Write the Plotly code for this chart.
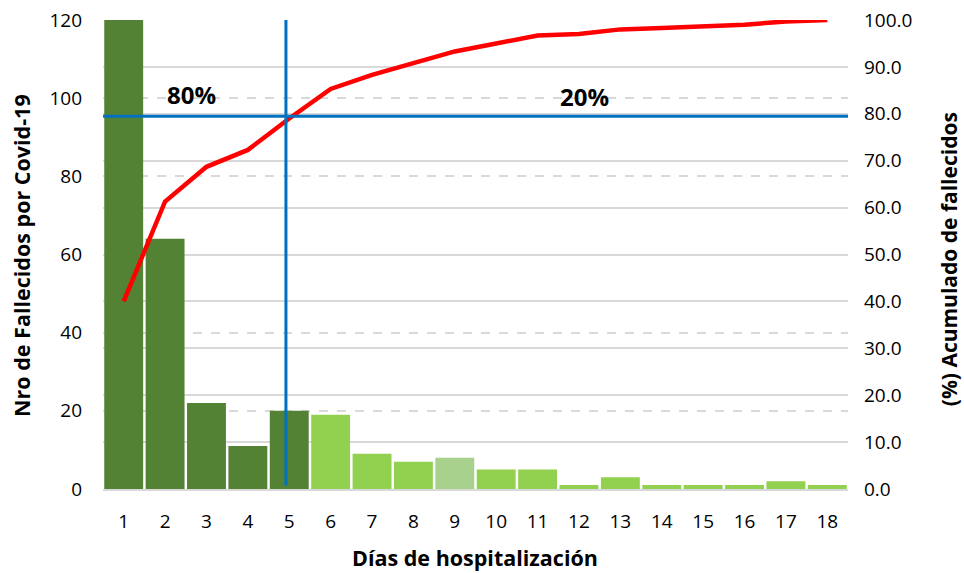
import plotly.graph_objects as go

dias = list(range(1, 19))
fallecidos = [120, 64, 22, 11, 20, 19, 9, 7, 8, 5, 5, 1, 3, 1, 1, 1, 2, 1]
acumulado = [40.0, 61.3, 68.7, 72.3, 79.0, 85.3, 88.3, 90.7, 93.3, 95.0, 96.7, 97.0, 98.0, 98.3, 98.7, 99.0, 99.7, 100.0]
colores = ["#548235"] * 5 + ["#92D050"] * 3 + ["#A9D18E"] + ["#92D050"] * 9

FONT = "Open Sans"

fig = go.Figure()
fig.add_trace(go.Bar(x=dias, y=fallecidos, marker=dict(color=colores, line=dict(width=0)),
                     yaxis="y", showlegend=False))
fig.add_trace(go.Scatter(x=dias, y=acumulado, mode="lines", yaxis="y2",
                         line=dict(color="#FF0000", width=4.5), showlegend=False))

# Pareto reference lines
fig.add_shape(type="line", xref="paper", yref="y2", x0=0, x1=1, y0=79.5, y1=79.5,
              line=dict(color="#0070C0", width=3))
fig.add_shape(type="line", xref="x", yref="y", x0=4.92, x1=4.92, y0=0.8, y1=120,
              line=dict(color="#0070C0", width=3))

fig.add_annotation(x=2.63, y=101, xref="x", yref="y", text="<b>80%</b>", showarrow=False,
                   font=dict(family=FONT, size=24, color="black"))
fig.add_annotation(x=12.14, y=100.3, xref="x", yref="y", text="<b>20%</b>", showarrow=False,
                   font=dict(family=FONT, size=24, color="black"))

# axis titles
fig.add_annotation(x=0.499, y=-0.145, xref="paper", yref="paper", text="<b>Días de hospitalización</b>",
                   showarrow=False, xanchor="center", yanchor="middle",
                   font=dict(family=FONT, size=21.5, color="black"))
fig.add_annotation(x=-0.1087, y=0.497, xref="paper", yref="paper", text="<b>Nro de Fallecidos por Covid-19</b>",
                   showarrow=False, xanchor="center", yanchor="middle", textangle=-90,
                   font=dict(family=FONT, size=21.5, color="black"))
fig.add_annotation(x=1.1356, y=0.49, xref="paper", yref="paper", text="<b>(%) Acumulado de fallecidos</b>",
                   showarrow=False, xanchor="center", yanchor="middle", textangle=-90,
                   font=dict(family=FONT, size=21, color="black"))

fig.update_layout(
    width=964, height=573,
    margin=dict(l=103, r=116, t=20, b=84, autoexpand=False),
    plot_bgcolor="white", paper_bgcolor="white",
    bargap=0.06,
    font=dict(family=FONT, size=19, color="black"),
    xaxis=dict(
        range=[0.5, 18.5], tickmode="array", tickvals=dias, ticktext=[str(d) for d in dias],
        showgrid=False, showline=True, linecolor="#D9D9D9", linewidth=2,
        ticks="", ticklabelstandoff=14, automargin=False,
    ),
    yaxis=dict(
        range=[0, 120], dtick=20, showgrid=True, gridcolor="#D9D9D9", griddash="dash", gridwidth=1.5,
        zeroline=False, showline=False, ticks="", ticklabelstandoff=20, automargin=False,
    ),
    yaxis2=dict(
        range=[0, 100], dtick=10, tickformat=".1f", overlaying="y", side="right",
        showgrid=True, gridcolor="#D9D9D9", gridwidth=1.5, zeroline=False, showline=False,
        ticks="", ticklabelstandoff=15, automargin=False,
    ),
)

fig.write_html("out.html", config={"displayModeBar": False},
               post_script="document.body.style.margin='0';document.body.style.overflow='hidden';")
